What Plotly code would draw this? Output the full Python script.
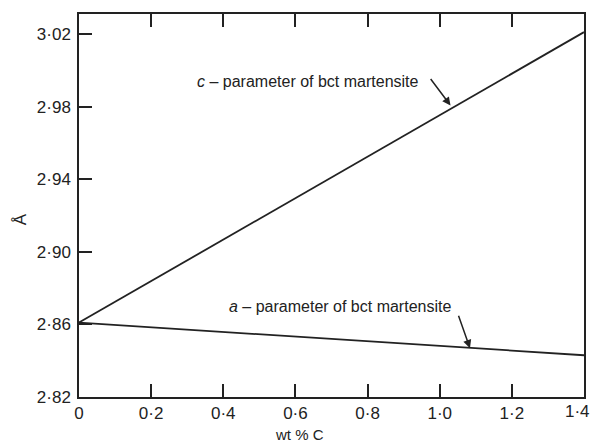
import plotly.graph_objects as go

# Data
wt_c = [0.0, 1.4]
c_param = [2.861, 3.021]
a_param = [2.861, 2.843]

x_ticks = [0, 0.2, 0.4, 0.6, 0.8, 1.0, 1.2, 1.4]
x_ticktext = ["0", "0·2", "0·4", "0·6", "0·8", "1·0", "1·2", "1·4"]
y_ticks = [2.82, 2.86, 2.90, 2.94, 2.98, 3.02]
y_ticktext = ["2·82", "2·86", "2·90", "2·94", "2·98", "3·02"]

FONT = "Liberation Sans, Arial, sans-serif"
INK = "#222222"

fig = go.Figure()
fig.add_trace(go.Scatter(x=wt_c, y=c_param, mode="lines",
                         line=dict(color=INK, width=1.8), showlegend=False))
fig.add_trace(go.Scatter(x=wt_c, y=a_param, mode="lines",
                         line=dict(color=INK, width=1.8), showlegend=False))

ann_font = dict(family=FONT, size=16, color=INK)
fig.add_annotation(x=0.947, y=2.9936, xref="x", yref="y", xanchor="right", yanchor="middle",
                   text="<i>c</i> – parameter of bct martensite", showarrow=False, font=ann_font)
fig.add_annotation(x=1.03, y=2.9806, xref="x", yref="y", ax=-21, ay=-28, text="",
                   showarrow=True, arrowhead=2, arrowsize=1.1, arrowwidth=1.5, arrowcolor=INK)
fig.add_annotation(x=1.037, y=2.8701, xref="x", yref="y", xanchor="right", yanchor="middle",
                   text="<i>a</i> – parameter of bct martensite", showarrow=False, font=ann_font)
fig.add_annotation(x=1.084, y=2.8469, xref="x", yref="y", ax=-12, ay=-34, text="",
                   showarrow=True, arrowhead=2, arrowsize=1.1, arrowwidth=1.5, arrowcolor=INK)
# last x tick label, pulled inside the page edge like the reference
fig.add_annotation(x=1.0, y=-0.039, xref="paper", yref="paper", xanchor="right", yanchor="middle",
                   xshift=8, text=x_ticktext[-1], showarrow=False,
                   font=dict(family=FONT, size=17, color=INK))
# axis titles
fig.add_annotation(x=0.436, y=-0.097, xref="paper", yref="paper", xanchor="center", yanchor="middle",
                   text="wt % C", showarrow=False, font=dict(family=FONT, size=15, color=INK))
fig.add_annotation(x=-0.117, y=0.464, xref="paper", yref="paper", xanchor="center", yanchor="middle",
                   text="Å", textangle=-90, showarrow=False, font=dict(family=FONT, size=17, color=INK))

fig.update_layout(
    width=593, height=443,
    margin=dict(l=79, r=9, t=14, b=46),
    paper_bgcolor="white", plot_bgcolor="white",
    font=dict(family=FONT, size=17, color=INK),
)
fig.update_xaxes(range=[0, 1.4], tickvals=x_ticks, ticktext=x_ticktext[:-1] + [""],
                 ticks="inside", ticklen=13, tickwidth=1.5, tickcolor=INK,
                 automargin=False,
                 showline=True, linecolor=INK, linewidth=1.5, mirror="ticks",
                 showgrid=False, zeroline=False)
fig.update_yaxes(range=[2.82, 3.031], tickvals=y_ticks, ticktext=y_ticktext,
                 ticks="inside", ticklen=13, tickwidth=1.5, tickcolor=INK,
                 ticklabelstandoff=3, automargin=False,
                 showline=True, linecolor=INK, linewidth=1.5, mirror=True,
                 showgrid=False, zeroline=False)

fig.write_html("out.html")
